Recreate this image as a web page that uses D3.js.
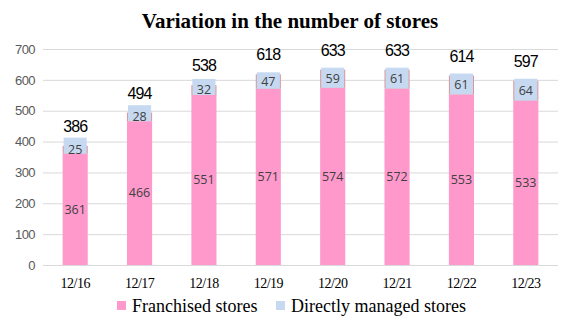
<!DOCTYPE html>
<html>
<head>
<meta charset="utf-8">
<script src="https://cdn.jsdelivr.net/npm/d3@7/dist/d3.min.js"></script>
<style>
  html, body { margin: 0; padding: 0; background: #fff; }
  svg { display: block; }
</style>
</head>
<body>
<svg id="chart" width="576" height="328"></svg>
<script>
// Store counts at each December year-end
const periods = ["12/16", "12/17", "12/18", "12/19", "12/20", "12/21", "12/22", "12/23"];
const franchised = [361, 466, 551, 571, 574, 572, 553, 533];
const directlyManaged = [25, 28, 32, 47, 59, 61, 61, 64];
const totalLabels = [386, 494, 538, 618, 633, 633, 614, 597];
const yTicks = [0, 100, 200, 300, 400, 500, 600, 700];
const seriesNames = ["Franchised stores", "Directly managed stores"];

const pink = "#ff99cc";
const blue = "#c6d9f1";
const edge = "#d9979b";
const gridColor = "#d9d9d9";

const svg = d3.select("#chart");

const x = d3.scaleBand()
  .domain(periods)
  .range([43, 558])
  .paddingInner(0.61)
  .paddingOuter(0.305);

const y = d3.scaleLinear().domain([0, 700]).range([265, 49]);

// Title
svg.append("text")
  .attr("x", 290).attr("y", 28)
  .attr("text-anchor", "middle")
  .attr("font-family", "'Liberation Serif', 'Times New Roman', serif")
  .attr("font-weight", "bold")
  .attr("font-size", 21)
  .attr("fill", "#000")
  .text("Variation in the number of stores");

// Gridlines and y tick labels
const yAxis = svg.append("g").attr("transform", "translate(43,0)")
  .call(d3.axisLeft(y).tickValues(yTicks).tickSize(-515).tickPadding(8).tickFormat(d3.format("d")));
yAxis.select(".domain").remove();
yAxis.selectAll(".tick line").attr("stroke", gridColor).attr("stroke-width", 1);
yAxis.selectAll(".tick text")
  .attr("font-family", "'Liberation Sans', Arial, sans-serif")
  .attr("font-size", 13)
  .attr("letter-spacing", "-0.6")
  .attr("fill", "#595959");

// x labels
const xAxis = svg.append("g").attr("transform", "translate(0,265)")
  .call(d3.axisBottom(x).tickSize(0).tickPadding(13));
xAxis.select(".domain").remove();
xAxis.selectAll(".tick text")
  .attr("font-family", "'Liberation Serif', 'Times New Roman', serif")
  .attr("font-size", 14)
  .attr("letter-spacing", "-0.5")
  .attr("fill", "#000");

const rows = periods.map((p, i) => ({
  p, f: franchised[i], d: directlyManaged[i], label: totalLabels[i]
}));

const bw = x.bandwidth();

// Franchised segment
svg.append("g").selectAll("rect").data(rows).join("rect")
  .attr("x", r => x(r.p))
  .attr("width", bw)
  .attr("y", r => y(r.f))
  .attr("height", r => y(0) - y(r.f))
  .attr("fill", pink);

// Directly managed segment
svg.append("g").selectAll("rect").data(rows).join("rect")
  .attr("x", r => x(r.p))
  .attr("width", bw)
  .attr("y", r => y(r.f + r.d))
  .attr("height", r => y(r.f) - y(r.f + r.d))
  .attr("fill", edge);

// Filled label boxes over the directly managed segment
const boxH = r => Math.max(y(r.f) - y(r.f + r.d) + 2, 16);
svg.append("g").selectAll("rect").data(rows).join("rect")
  .attr("x", r => x(r.p) + 1)
  .attr("width", bw - 2)
  .attr("y", r => y(r.f) - boxH(r))
  .attr("height", boxH)
  .attr("fill", blue);

const segFont = "'Open Sans', 'Noto Sans', sans-serif";

// Segment value labels
svg.append("g").selectAll("text").data(rows).join("text")
  .attr("x", r => x(r.p) + bw / 2)
  .attr("y", r => y(r.f / 2))
  .attr("dy", "0.35em")
  .attr("text-anchor", "middle")
  .attr("font-family", segFont)
  .attr("font-size", 12.5)
  .attr("fill", "#404040")
  .text(r => r.f);

svg.append("g").selectAll("text").data(rows).join("text")
  .attr("x", r => x(r.p) + bw / 2)
  .attr("y", r => y(r.f + r.d / 2))
  .attr("dy", "0.35em")
  .attr("text-anchor", "middle")
  .attr("font-family", segFont)
  .attr("font-size", 12.5)
  .attr("fill", "#404040")
  .text(r => r.d);

// Total labels above each stack
svg.append("g").selectAll("text").data(rows).join("text")
  .attr("x", r => x(r.p) + bw / 2)
  .attr("y", r => y(r.f + r.d) - 14)
  .attr("text-anchor", "middle")
  .attr("font-family", "'Liberation Sans', Arial, sans-serif")
  .attr("font-size", 16)
  .attr("letter-spacing", "-0.9")
  .attr("fill", "#000")
  .text(r => r.label);

// Legend
const legend = svg.append("g").attr("font-family", "'Liberation Serif', 'Times New Roman', serif");
const legendItems = [
  { name: seriesNames[0], color: pink, x: 117 },
  { name: seriesNames[1], color: blue, x: 276 }
];
legendItems.forEach(it => {
  legend.append("rect")
    .attr("x", it.x).attr("y", 301)
    .attr("width", 9).attr("height", 9)
    .attr("fill", it.color);
  legend.append("text")
    .attr("x", it.x + 15).attr("y", 312)
    .attr("font-size", 18)
    .attr("fill", "#000")
    .text(it.name);
});
</script>
</body>
</html>
